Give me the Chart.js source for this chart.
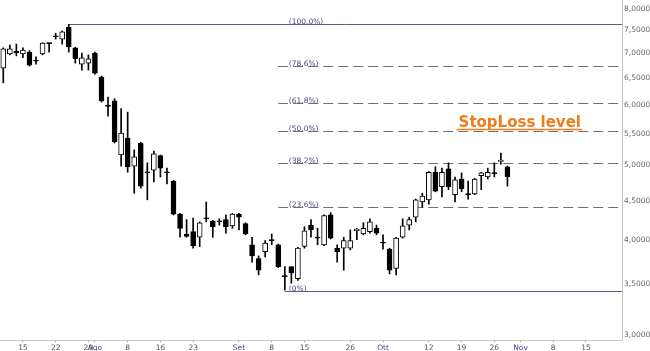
<!DOCTYPE html>
<html>
<head>
<meta charset="utf-8">
<script src="https://cdn.jsdelivr.net/npm/chart.js"></script>
<style>
  body { margin: 0; background: #fff; }
</style>
</head>
<body>
<canvas id="myChart" width="650" height="351"></canvas>
<script>
// one candle per trading day
var opens  = [6.70, 6.99, 7.05, 6.99, 7.03, 6.85, 6.99, 7.22, 7.37, 7.31,
              7.58, 7.12, 6.78, 6.80, 7.01, 6.52, 5.99, 6.07, 5.16, 5.43,
              4.99, 5.35, 4.90, 4.93, 5.15, 4.90, 4.77, 4.32, 4.07, 4.10,
              4.03, 4.27, 4.23, 4.23, 4.25, 4.17, 4.32, 4.20, 3.94, 3.78,
              3.86, 4.00, 3.94, 3.59, 3.69, 3.56, 3.92, 4.18, 4.03, 3.94,
              4.31, 3.90, 3.90, 3.90, 4.11, 4.07, 4.10, 4.14, 3.97, 3.89,
              3.67, 4.03, 4.18, 4.28, 4.48, 4.51, 4.90, 4.69, 4.95, 4.58,
              4.80, 4.59, 4.59, 4.85, 4.83, 4.89, 5.06, 4.98];
var highs  = [7.12, 7.18, 7.20, 7.12, 7.06, 6.93, 7.23, 7.23, 7.44, 7.49,
              7.64, 7.13, 7.01, 6.97, 7.03, 6.54, 6.14, 6.11, 5.93, 5.87,
              5.24, 5.36, 5.04, 5.22, 5.16, 4.96, 4.78, 4.33, 4.25, 4.27,
              4.22, 4.48, 4.24, 4.26, 4.31, 4.33, 4.33, 4.21, 4.03, 3.81,
              3.99, 4.07, 3.95, 3.69, 3.69, 3.91, 4.16, 4.25, 4.14, 4.31,
              4.34, 3.94, 4.03, 4.12, 4.14, 4.21, 4.26, 4.18, 4.06, 3.90,
              4.03, 4.26, 4.28, 4.52, 4.60, 4.91, 4.98, 4.96, 5.04, 4.83,
              4.89, 4.77, 4.81, 4.90, 4.96, 5.04, 5.19, 4.99];
var lows   = [6.41, 6.97, 6.95, 6.91, 6.74, 6.78, 6.97, 7.03, 7.31, 7.20,
              7.03, 6.80, 6.66, 6.66, 6.58, 6.05, 5.80, 5.35, 4.99, 4.90,
              4.60, 4.67, 4.51, 4.76, 4.83, 4.73, 4.31, 4.03, 4.03, 3.90,
              3.92, 4.22, 4.03, 4.18, 4.08, 4.14, 4.12, 4.06, 3.74, 3.60,
              3.80, 3.94, 3.68, 3.44, 3.51, 3.54, 3.90, 4.03, 3.94, 3.93,
              4.01, 3.74, 3.65, 3.88, 4.00, 4.06, 4.08, 4.06, 3.89, 3.61,
              3.60, 4.02, 4.12, 4.22, 4.41, 4.45, 4.62, 4.55, 4.65, 4.48,
              4.62, 4.52, 4.58, 4.65, 4.80, 4.83, 5.02, 4.70];
var closes = [7.10, 7.10, 7.01, 7.07, 6.76, 6.84, 7.22, 7.21, 7.36, 7.47,
              7.14, 6.89, 6.91, 6.89, 6.60, 6.07, 5.97, 5.37, 5.51, 4.98,
              5.13, 4.70, 4.89, 5.18, 4.96, 4.89, 4.32, 4.14, 4.04, 3.93,
              4.21, 4.26, 4.16, 4.22, 4.16, 4.32, 4.28, 4.07, 3.81, 3.65,
              3.96, 3.99, 3.69, 3.58, 3.62, 3.90, 4.11, 4.12, 4.02, 4.30,
              4.02, 3.86, 3.99, 3.99, 4.13, 4.14, 4.22, 4.08, 3.96, 3.65,
              4.02, 4.17, 4.25, 4.51, 4.56, 4.90, 4.63, 4.90, 4.69, 4.79,
              4.66, 4.58, 4.80, 4.89, 4.90, 4.88, 5.08, 4.83];

var dayCount = 95; // trading days on the axis, incl. the empty ones to the right

var tickIndex = [3, 8, 13, 14, 19, 24, 29, 36, 41, 46, 53, 58, 65, 70, 75, 79, 84, 89];
var tickText  = ['15', '22', '29', 'Ago', '8', '16', '23', 'Set', '8', '15', '26', 'Ott', '12', '19', '26', 'Nov', '8', '15'];
var monthNames = ['Ago', 'Set', 'Ott', 'Nov'];

var yTicks = [3.0, 3.5, 4.0, 4.5, 5.0, 5.5, 6.0, 6.5, 7.0, 7.5, 8.0];

// fibonacci retracement
var fibValues = [7.64, 6.74, 6.03, 5.54, 5.04, 4.42, 3.43];
var fibLabels = ['(100.0%)', '(78.6%)', '(61.8%)', '(50.0%)', '(38.2%)', '(23.6%)', '(0%)'];
var fibStart  = [10, 42, 42, 42, 42, 42, 43];

var stopLossText  = 'StopLoss level';
var stopLossValue = 5.54;
var stopLossStart = 70;

var days = [];
for (var i = 0; i < dayCount; i++) days.push(i);

var bodies = opens.map(function (o, i) { return [Math.min(o, closes[i]), Math.max(o, closes[i])]; });
var wicks = lows.map(function (l, i) { return [l, highs[i]]; });
var bodyColors = opens.map(function (o, i) { return closes[i] > o ? '#ffffff' : '#000000'; });

var fibPlugin = {
    id: 'fib',
    beforeDatasetsDraw: function (chart) {
        var ctx = chart.ctx, xs = chart.scales.x, ys = chart.scales.y, area = chart.chartArea;
        ctx.save();
        fibValues.forEach(function (v, i) {
            var py = Math.round(ys.getPixelForValue(v)) + 0.5;
            var px = xs.getPixelForValue(fibStart[i]);
            var solid = (i === 0 || i === fibValues.length - 1);
            ctx.strokeStyle = solid ? '#5c5c7c' : '#707070';
            ctx.lineWidth = 1;
            ctx.setLineDash(solid ? [] : [10, 5]);
            ctx.beginPath();
            ctx.moveTo(px, py);
            ctx.lineTo(area.right, py);
            ctx.stroke();
            ctx.setLineDash([]);
            ctx.fillStyle = '#45458a';
            ctx.font = '7.5px "DejaVu Sans"';
            ctx.textAlign = 'left';
            ctx.textBaseline = 'alphabetic';
            ctx.fillText(fibLabels[i], xs.getPixelForValue(43) + 4, py - 1);
        });

        // stop loss label
        var sy = Math.round(ys.getPixelForValue(stopLossValue));
        var sx = xs.getPixelForValue(stopLossStart) - 3;
        ctx.font = 'bold 15px "DejaVu Sans"';
        ctx.fillStyle = '#ee7d1c';
        ctx.fillText(stopLossText, sx, sy - 4);
        var w = ctx.measureText(stopLossText).width;
        ctx.strokeStyle = '#ee7d1c';
        ctx.lineWidth = 1.5;
        ctx.beginPath();
        ctx.moveTo(sx - 2, sy - 1.5);
        ctx.lineTo(sx + w + 1, sy - 1.5);
        ctx.stroke();
        ctx.restore();
    }
};

var ctx = document.getElementById('myChart').getContext('2d');

var chart = new Chart(ctx, {
    type: 'bar',
    data: {
        labels: days,
        datasets: [{
            // candle bodies
            data: bodies,
            backgroundColor: bodyColors,
            borderColor: '#000000',
            borderWidth: 1,
            borderSkipped: false,
            barThickness: 5,
            minBarLength: 1,
            grouped: false
        }, {
            // high-low wicks
            data: wicks,
            backgroundColor: '#000000',
            borderWidth: 0,
            barThickness: 1,
            grouped: false
        }]
    },
    plugins: [fibPlugin],
    options: {
        responsive: false,
        animation: false,
        layout: { padding: 0 },
        plugins: {
            legend: { display: false },
            tooltip: { enabled: false }
        },
        scales: {
            x: {
                type: 'category',
                offset: true,
                afterFit: function (axis) { axis.height = 11; axis.paddingLeft = 0; axis.paddingRight = 0; },
                grid: {
                    offset: false,
                    drawOnChartArea: false,
                    drawTicks: true,
                    tickLength: 2,
                    color: function (c) { return tickIndex.indexOf(c.index) >= 0 ? '#999999' : 'rgba(0,0,0,0)'; }
                },
                border: { display: true, color: '#c8c8c8' },
                ticks: {
                    autoSkip: false,
                    maxRotation: 0,
                    padding: 2,
                    font: { size: 7.5, family: 'DejaVu Sans' },
                    color: function (c) {
                        var k = tickIndex.indexOf(c.index);
                        return (k >= 0 && monthNames.indexOf(tickText[k]) >= 0) ? '#44449a' : '#555555';
                    },
                    callback: function (v, i) {
                        var k = tickIndex.indexOf(i);
                        return k >= 0 ? tickText[k] : '';
                    }
                }
            },
            y: {
                type: 'logarithmic',
                position: 'right',
                min: 2.96,
                max: 8.22,
                afterBuildTicks: function (axis) {
                    axis.ticks = yTicks.map(function (v) { return { value: v }; });
                },
                afterFit: function (axis) { axis.width = 28; axis.paddingTop = 0; axis.paddingBottom = 0; },
                grid: { display: false, drawTicks: false },
                border: { display: true, color: '#c8c8c8' },
                ticks: {
                    padding: 2,
                    color: '#666666',
                    font: { size: 7.5, family: 'DejaVu Sans' },
                    callback: function (v) { return Number(v).toFixed(4).replace('.', ','); }
                }
            }
        }
    }
});
</script>
</body>
</html>
